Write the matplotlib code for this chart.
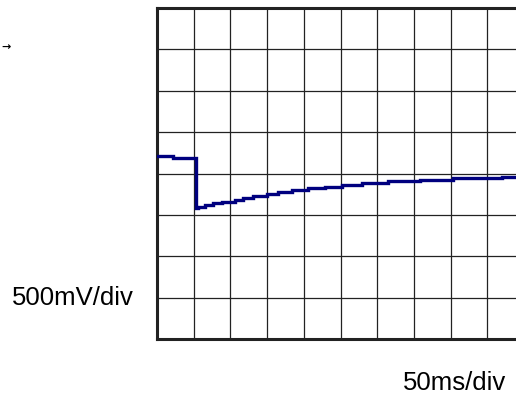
import numpy as np
import matplotlib
matplotlib.use("Agg")
import matplotlib.pyplot as plt

# Waveform data: time (ms) and voltage (V)
time_ms = [0.0, 22.2, 50.8, 53.1, 56.3, 65.4, 76.7, 88.1, 106.3, 117.6, 130.8,
           149.9, 164.9, 183.9, 205.7, 228.9, 252.0, 279.3, 314.7, 358.3,
           403.3, 470.0, 500.0]
volts = [0.215, 0.191, 0.191, -0.413, -0.401, -0.381, -0.360, -0.341, -0.320,
         -0.292, -0.272, -0.248, -0.220, -0.199, -0.179, -0.160, -0.135,
         -0.115, -0.094, -0.075, -0.058, -0.039, -0.039]

x_divs = 10
y_divs = 8
ms_per_div = 50
v_per_div = 0.5
y_label = "500mV/div"
x_label = "50ms/div"

W, H = 516, 399
fig = plt.figure(figsize=(W / 100, H / 100), dpi=100)
ax = fig.add_axes([157 / W, (H - 339) / H, 367 / W, 331 / H])

ax.plot(time_ms, volts, drawstyle="steps-post", color="#00007f",
        lw=2.4, solid_joinstyle="miter", zorder=3)

ax.set_xlim(0, x_divs * ms_per_div)
ax.set_ylim(-y_divs / 2 * v_per_div, y_divs / 2 * v_per_div)
ax.set_xticks(np.arange(0, x_divs * ms_per_div + 1, ms_per_div))
ax.set_yticks(np.arange(-y_divs / 2 * v_per_div, y_divs / 2 * v_per_div + 0.01, v_per_div))
ax.grid(True, color="#222222", lw=0.9)
ax.tick_params(length=0, labelbottom=False, labelleft=False)
for s in ax.spines.values():
    s.set_linewidth(2.2)
    s.set_color("#222222")

font = ["Liberation Sans", "DejaVu Sans"]
fig.text(12 / W, 1 - 298 / H, y_label, fontsize=18.5, family=font,
         ha="left", va="center")
fig.text(506 / W, 1 - 383 / H, x_label, fontsize=18.5, family=font,
         ha="right", va="center")
fig.text(1 / W, 1 - 47 / H, "→", fontsize=8, fontweight="bold",
         family=["DejaVu Sans"], ha="left", va="center")

fig.savefig("out.png", dpi=100)
